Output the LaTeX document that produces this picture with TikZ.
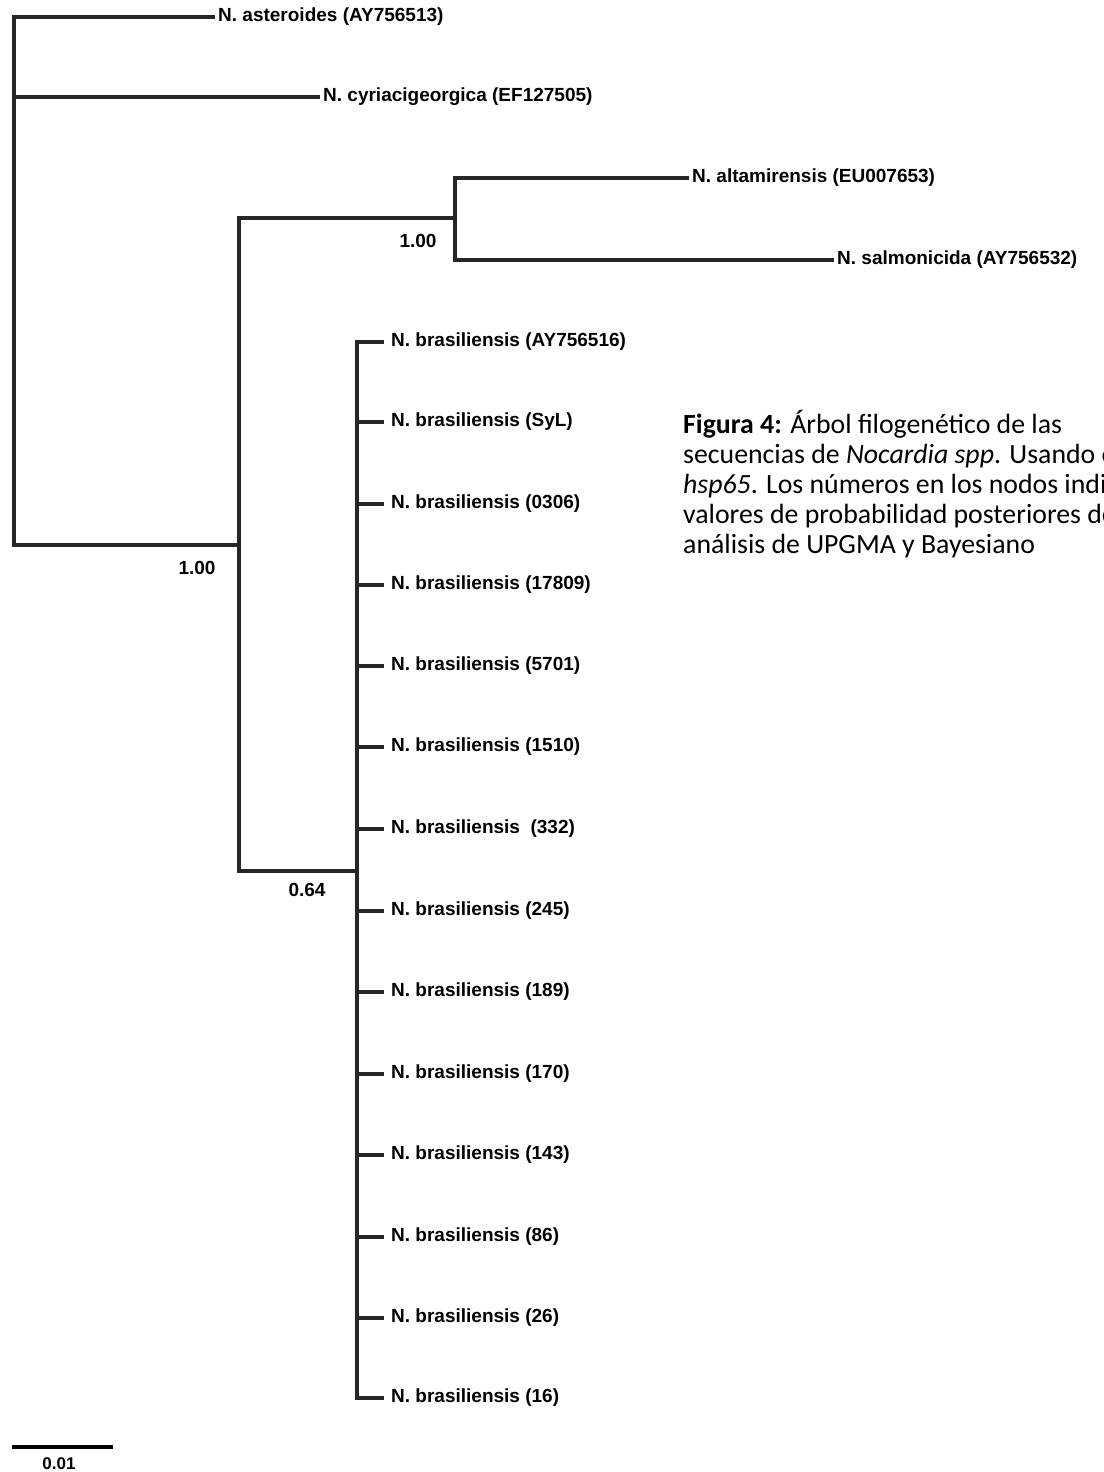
\documentclass[tikz,border=0pt]{standalone}
\usepackage{fontspec}
\setmainfont{Liberation Sans}
\newfontfamily\capfont{Carlito}
\begin{document}
\begin{tikzpicture}[x=1pt,y=-1pt,
  tree/.style={draw=black!85, line width=3.2pt, line cap=rect},
  leaf/.style={anchor=west, inner ysep=0pt, inner xsep=#1, font=\fontsize{19}{21}\selectfont\bfseries},
  leaf/.default=5pt,
  support/.style={inner sep=0pt, font=\fontsize{19}{21}\selectfont\bfseries}]
\useasboundingbox (0,0) rectangle (1103,1472);
\clip (0,0) rectangle (1103,1472);
% internal nodes
\coordinate (r) at (14,545);
\coordinate (A) at (239,545);
\coordinate (C) at (455,218);
\coordinate (B) at (357,871);
% leaves
\node[leaf] (ast) at (213,17) {N. asteroides (AY756513)};
\node[leaf] (cyr) at (318,97) {N. cyriacigeorgica (EF127505)};
\node[leaf] (alt) at (687,178) {N. altamirensis (EU007653)};
\node[leaf] (sal) at (832,260) {N. salmonicida (AY756532)};
\node[leaf=9pt] (b1) at (382,342) {N. brasiliensis (AY756516)};
\node[leaf=9pt] (b2) at (382,422) {N. brasiliensis (SyL)};
\node[leaf=9pt] (b3) at (382,504) {N. brasiliensis (0306)};
\node[leaf=9pt] (b4) at (382,585) {N. brasiliensis (17809)};
\node[leaf=9pt] (b5) at (382,666) {N. brasiliensis (5701)};
\node[leaf=9pt] (b6) at (382,747) {N. brasiliensis (1510)};
\node[leaf=9pt] (b7) at (382,829) {N. brasiliensis \ (332)};
\node[leaf=9pt] (b8) at (382,911) {N. brasiliensis (245)};
\node[leaf=9pt] (b9) at (382,992) {N. brasiliensis (189)};
\node[leaf=9pt] (b10) at (382,1074) {N. brasiliensis (170)};
\node[leaf=9pt] (b11) at (382,1155) {N. brasiliensis (143)};
\node[leaf=9pt] (b12) at (382,1237) {N. brasiliensis (86)};
\node[leaf=9pt] (b13) at (382,1318) {N. brasiliensis (26)};
\node[leaf=9pt] (b14) at (382,1398) {N. brasiliensis (16)};
% branches
\draw[tree] (ast.west) -| (r) -- (A);
\draw[tree] (cyr.west) -- (r |- cyr.west);
\draw[tree] (C) -| (A) |- (B);
\draw[tree] (alt.west) -| (C) |- (sal.west);
\draw[tree] (b1.west) -| (B) |- (b14.west);
\foreach \i in {2,...,13} \draw[tree] (B |- b\i.west) -- (b\i.west);
% support values
\node[support] (s1) at (197,568) {1.00};
\node[support] (s2) at (418,241) {1.00};
\node[support] (s3) at (307,890) {0.64};
% scale bar
\coordinate (sbl) at (12,1447);
\coordinate (sbr) at (113,1447);
\draw[draw=black, line width=3.2pt] (sbl) -- (sbr);
\node[support, font=\fontsize{17}{19}\selectfont\bfseries] (sbt) at (59,1464) {0.01};
% caption
\node[anchor=north west, inner sep=0pt, align=left, font=\capfont\fontsize{27.8}{30}\selectfont] (cap) at (683,410)
{\textbf{Figura 4:} Árbol filogenético de las\\
secuencias de \textit{Nocardia spp}. Usando el\\
\textit{hsp65}. Los números en los nodos indican\\
valores de probabilidad posteriores del\\
análisis de UPGMA y Bayesiano};
\end{tikzpicture}
\end{document}
